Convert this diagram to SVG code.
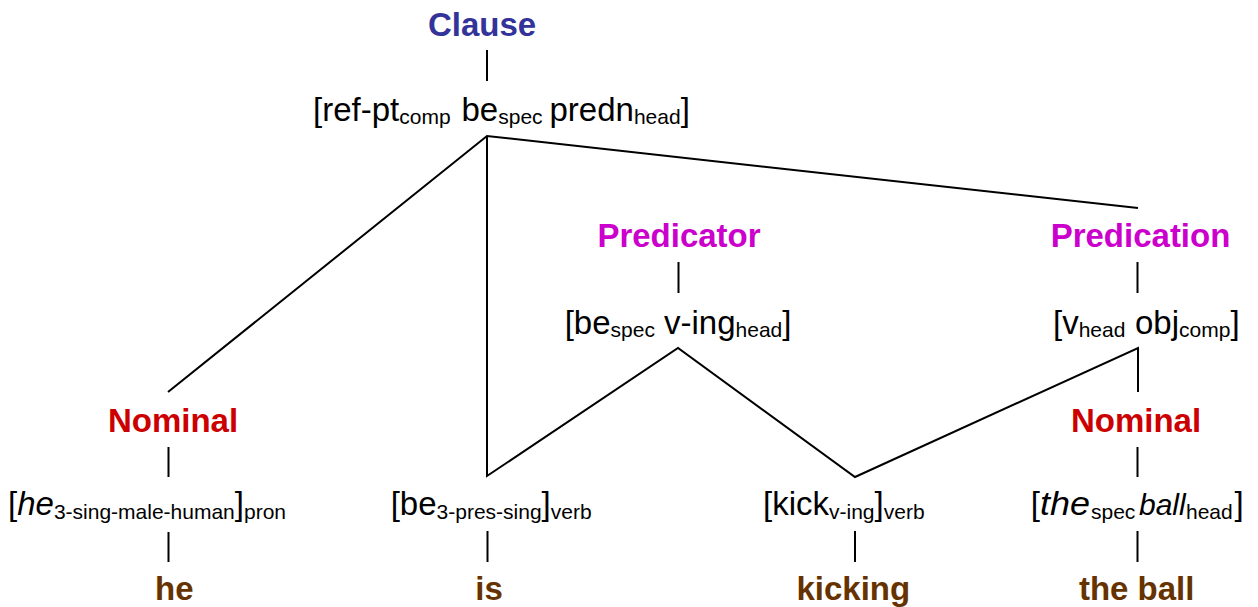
<svg xmlns="http://www.w3.org/2000/svg" width="1258" height="607" viewBox="0 0 1258 607">
  <style>
    text { font-family: "Liberation Sans", Arial, sans-serif; }
    .lbl { font-size: 33px; font-weight: bold; text-anchor: middle; }
    .clause { fill: #333399; }
    .pred { fill: #CC00CC; }
    .nom { fill: #CC0000; }
    .word { fill: #663300; }
    .m { font-size: 33px; fill: #000; }
    .s { font-size: 21px; fill: #000; }
    .i { font-style: italic; }
    .ln { stroke: #000; stroke-width: 2; fill: none; stroke-linejoin: miter; }
  </style>

  <!-- tree branches -->
  <g id="connectors">
    <line class="ln" x1="487" y1="50" x2="487" y2="81"/>
    <polyline class="ln" points="168,392 487,136 1138,208"/>
    <polyline class="ln" points="487,136 487,476 678,348 855,477 1138,348 1138,392"/>
    <line class="ln" x1="678.5" y1="262" x2="678.5" y2="293"/>
    <line class="ln" x1="1137.5" y1="262" x2="1137.5" y2="293"/>
    <line class="ln" x1="168.5" y1="447" x2="168.5" y2="477"/>
    <line class="ln" x1="168.5" y1="532" x2="168.5" y2="562"/>
    <line class="ln" x1="487.5" y1="531" x2="487.5" y2="562"/>
    <line class="ln" x1="855" y1="531" x2="855" y2="562"/>
    <line class="ln" x1="1137.5" y1="447" x2="1137.5" y2="477"/>
    <line class="ln" x1="1137.5" y1="531" x2="1137.5" y2="562"/>
  </g>

  <!-- clause level -->
  <g id="clause">
    <text class="lbl clause" x="482" y="36">Clause</text>
  </g>
  <g id="clause-structure">
    <text>
      <tspan class="m" x="313" y="121">[ref-pt</tspan><tspan class="s" y="124">comp</tspan><tspan class="m" x="461.5" y="121">be</tspan><tspan class="s" y="124">spec</tspan><tspan class="m" x="549.5" y="121">predn</tspan><tspan class="s" y="124">head</tspan><tspan class="m" y="121">]</tspan>
    </text>
  </g>

  <!-- predicator -->
  <g id="predicator">
    <text class="lbl pred" x="679" y="247">Predicator</text>
  </g>
  <g id="predicator-structure">
    <text>
      <tspan class="m" x="564.7" y="334">[be</tspan><tspan class="s" y="337">spec</tspan><tspan class="m" x="664" y="334">v-ing</tspan><tspan class="s" y="337">head</tspan><tspan class="m" y="334">]</tspan>
    </text>
  </g>

  <!-- predication -->
  <g id="predication">
    <text class="lbl pred" x="1140.5" y="247">Predication</text>
  </g>
  <g id="predication-structure">
    <text>
      <tspan class="m" x="1053" y="334">[v</tspan><tspan class="s" y="337">head</tspan><tspan class="m" x="1135" y="334">obj</tspan><tspan class="s" y="337">comp</tspan><tspan class="m" y="334">]</tspan>
    </text>
  </g>

  <!-- subject nominal -->
  <g id="nominal-subject">
    <text class="lbl nom" x="173" y="432">Nominal</text>
  </g>
  <g id="pronoun">
    <text>
      <tspan class="m" x="8" y="515">[</tspan><tspan class="m i" y="515">he</tspan><tspan class="s" y="519">3-sing-male-human</tspan><tspan class="m" y="515">]</tspan><tspan class="s" y="519">pron</tspan>
    </text>
  </g>
  <g id="word-he">
    <text class="lbl word" x="174.3" y="600">he</text>
  </g>

  <!-- auxiliary -->
  <g id="verb-be">
    <text>
      <tspan class="m" x="390.7" y="515">[be</tspan><tspan class="s" y="519">3-pres-sing</tspan><tspan class="m" y="515">]</tspan><tspan class="s" y="519">verb</tspan>
    </text>
  </g>
  <g id="word-is">
    <text class="lbl word" x="489" y="600">is</text>
  </g>

  <!-- main verb -->
  <g id="verb-kick">
    <text>
      <tspan class="m" x="763" y="515">[kick</tspan><tspan class="s" y="519">v-ing</tspan><tspan class="m" y="515">]</tspan><tspan class="s" y="519">verb</tspan>
    </text>
  </g>
  <g id="word-kicking">
    <text class="lbl word" x="853.3" y="600">kicking</text>
  </g>

  <!-- object nominal -->
  <g id="nominal-object">
    <text class="lbl nom" x="1136" y="432">Nominal</text>
  </g>
  <g id="noun-phrase">
    <text>
      <tspan class="m" x="1030.7" y="515">[</tspan><tspan class="m i" x="1040" y="515" textLength="50" lengthAdjust="spacingAndGlyphs">the</tspan><tspan class="s" x="1091" y="519">spec</tspan><tspan class="m i" x="1139" y="515" style="font-size:30px">ball</tspan><tspan class="s" x="1186" y="519">head</tspan><tspan class="m" x="1234.5" y="515">]</tspan>
    </text>
  </g>
  <g id="word-the-ball">
    <text class="lbl word" x="1136.7" y="600">the ball</text>
  </g>
</svg>
